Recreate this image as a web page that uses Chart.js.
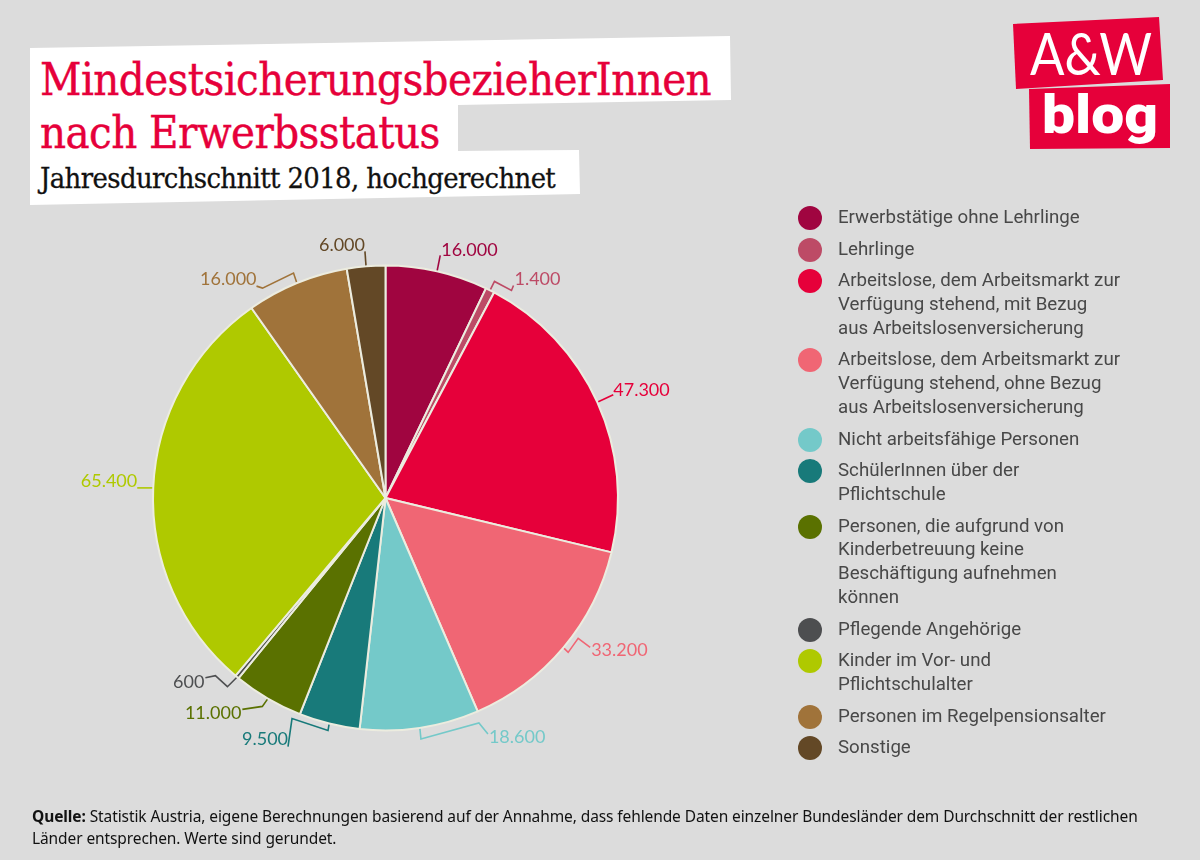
<!DOCTYPE html>
<html lang="de">
<head>
<meta charset="UTF-8" />
<title>MindestsicherungsbezieherInnen nach Erwerbsstatus</title>
<style>
  html, body { margin: 0; padding: 0; background: #dcdcdc; }
  #page { position: relative; width: 1200px; height: 860px; overflow: hidden; background: #dcdcdc; }
  #pie { position: absolute; left: 0; top: 0; width: 1200px; height: 860px; }
  #titleBox { position: absolute; left: 0; top: 0; }
  .head { position: absolute; left: 40px; white-space: nowrap; font-family: "DejaVu Serif Condensed", "DejaVu Serif", serif; transform-origin: 0 0; }
  #title1, #title2 { color: #e6003a; font-size: 45px; line-height: 50px; letter-spacing: -0.55px; -webkit-text-stroke: 0.4px #e6003a; }
  #title1 { top: 55px; }
  #title2 { top: 108px; }
  #subtitle { top: 160px; color: #111; font-size: 28.8px; line-height: 36px; letter-spacing: -0.6px; -webkit-text-stroke: 0.3px #111; }
  #legend { position: absolute; left: 798px; top: 206px; width: 360px; font: 18.7px/23.9px Roboto, sans-serif; color: #484848; }
  .item { position: relative; padding-left: 40px; margin-bottom: 7.6px; white-space: pre-line; }
  .dot { position: absolute; left: 0; top: 0; width: 24px; height: 24px; border-radius: 50%; }
  #source { position: absolute; left: 32px; top: 805px; font: 15.5px/22px "Noto Sans", sans-serif; letter-spacing: -0.1px; color: #111; white-space: nowrap; }
  #logo { position: absolute; left: 0; top: 0; }
</style>
</head>
<body>
<div id="page">
  <svg id="titleBox" width="800" height="220">
    <polygon fill="#fff" points="30,48 730,36 731,100 458,105 458,151 579,150 580,194 30,205"/>
  </svg>
  <div class="head" id="title1">MindestsicherungsbezieherInnen</div>
  <div class="head" id="title2">nach Erwerbsstatus</div>
  <div class="head" id="subtitle">Jahresdurchschnitt 2018, hochgerechnet</div>

  <svg id="logo" width="1200" height="160">
    <polygon fill="#e6003a" points="1013,24 1159,17 1163,80 1016,89"/>
    <polygon fill="#e6003a" points="1029,89 1170,84 1170,148 1030,149"/>
    <text x="1030" y="75" fill="#fff" font-family="Lato, sans-serif" font-size="58" textLength="122" lengthAdjust="spacingAndGlyphs">A&amp;W</text>
    <text x="1042" y="133" fill="#fff" font-family="Roboto, sans-serif" font-weight="900" font-size="54" textLength="116" lengthAdjust="spacingAndGlyphs">blog</text>
  </svg>

  <canvas id="pie" width="1200" height="860"></canvas>
  <div id="legend"></div>
  <div id="source"><b>Quelle:</b> Statistik Austria, eigene Berechnungen basierend auf der Annahme, dass fehlende Daten einzelner Bundesländer dem Durchschnitt der restlichen<br>Länder entsprechen. Werte sind gerundet.</div>
</div>

<script src="https://cdn.jsdelivr.net/npm/chart.js"></script>
<script>
const categories = [
  "Erwerbstätige ohne Lehrlinge",
  "Lehrlinge",
  "Arbeitslose, dem Arbeitsmarkt zur\nVerfügung stehend, mit Bezug\naus Arbeitslosenversicherung",
  "Arbeitslose, dem Arbeitsmarkt zur\nVerfügung stehend, ohne Bezug\naus Arbeitslosenversicherung",
  "Nicht arbeitsfähige Personen",
  "SchülerInnen über der\nPflichtschule",
  "Personen, die aufgrund von\nKinderbetreuung keine\nBeschäftigung aufnehmen\nkönnen",
  "Pflegende Angehörige",
  "Kinder im Vor- und\nPflichtschulalter",
  "Personen im Regelpensionsalter",
  "Sonstige"
];
const values = [16000, 1400, 47300, 33200, 18600, 9500, 11000, 600, 65400, 16000, 6000];
const colors = ["#a00540", "#bd4b66", "#e6003a", "#f06674", "#74c9c9", "#187a7a", "#5a7100", "#4d4e50", "#afc900", "#a0733a", "#634826"];

// leader line shape per slice, pixel steps starting from the middle of the slice's outer edge
const leaders = [
  [[3, -15]],
  [[4, -8], [21, 1], [23, -4]],
  [[15, -7]],
  [[4, 4], [14, -10], [26, -1]],
  [[1, 10], [59, -6], [68, 5]],
  [[-1, 6], [-37, -6], [-41, 22]],
  [[-5, 7], [-25, 10]],
  [[-9, 9], [-21, -2], [-31, 0]],
  [[-15, 0]],
  [[-3, -9], [-34, 6], [-40, 4]],
  [[-1, -14]]
];
// where the number sits relative to the end of its leader
const labelAnchors = [
  ["left", 1, -5], ["left", 1, -6], ["left", 0, -5], ["left", 1, 3],
  ["left", 1, 3], ["right", 0, -7], ["right", -1, 4], ["right", -1, 4],
  ["right", 0, -7], ["right", 0, -7], ["right", 0, -6]
];

const legendBox = document.getElementById("legend");
categories.forEach((name, i) => {
  const item = document.createElement("div");
  item.className = "item";
  item.textContent = name;
  const dot = document.createElement("span");
  dot.className = "dot";
  dot.style.background = colors[i];
  item.prepend(dot);
  legendBox.appendChild(item);
});

const leaderPlugin = {
  id: "leaderLabels",
  afterDatasetsDraw(chart) {
    const ctx = chart.ctx;
    chart.getDatasetMeta(0).data.forEach((arc, i) => {
      const mid = (arc.startAngle + arc.endAngle) / 2;
      let x = arc.x + Math.cos(mid) * (arc.outerRadius + 1);
      let y = arc.y + Math.sin(mid) * (arc.outerRadius + 1);
      const startX = x, startY = y;
      ctx.save();
      ctx.strokeStyle = colors[i];
      ctx.lineWidth = 1.6;
      ctx.beginPath();
      ctx.moveTo(startX, startY);
      leaders[i].forEach(step => {
        x = startX + step[0];
        y = startY + step[1];
        ctx.lineTo(x, y);
      });
      ctx.stroke();
      const anchor = labelAnchors[i];
      ctx.fillStyle = colors[i];
      ctx.font = "18px Lato, sans-serif";
      ctx.textAlign = anchor[0];
      ctx.textBaseline = "middle";
      ctx.fillText(values[i].toLocaleString("de-DE"), x + anchor[1], y + anchor[2]);
      ctx.restore();
    });
  }
};

new Chart(document.getElementById("pie"), {
  type: "pie",
  data: {
    labels: categories,
    datasets: [{
      data: values,
      backgroundColor: colors,
      borderColor: "#ececdf",
      borderWidth: 2
    }]
  },
  options: {
    responsive: false,
    animation: false,
    layout: { padding: { left: 152, right: 581, top: 264, bottom: 128 } },
    plugins: { legend: { display: false }, tooltip: { enabled: false } }
  },
  plugins: [leaderPlugin]
});
</script>
</body>
</html>
